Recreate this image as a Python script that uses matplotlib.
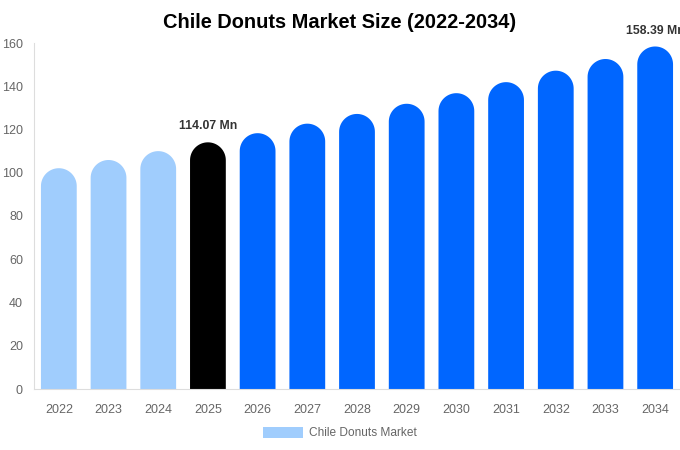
import matplotlib
matplotlib.use("Agg")
import matplotlib.pyplot as plt
import numpy as np
from matplotlib.path import Path
from matplotlib.patches import PathPatch, Patch

years = ["2022", "2023", "2024", "2025", "2026", "2027", "2028",
         "2029", "2030", "2031", "2032", "2033", "2034"]
values = [102.1, 105.9, 110.0, 114.07, 118.3, 122.7, 127.2,
          131.9, 136.8, 141.9, 147.2, 152.6, 158.39]
colors = ["#a0cdfd"] * 3 + ["#000000"] + ["#0066ff"] * 9
labels = {3: "114.07 Mn", 12: "158.39 Mn"}
yticks = [0, 20, 40, 60, 80, 100, 120, 140, 160]
legend_label = "Chile Donuts Market"
title = "Chile Donuts Market Size (2022-2034)"

plt.rcParams['font.family'] = ['Liberation Sans', 'DejaVu Sans']

fig = plt.figure(figsize=(6.8, 4.5), dpi=100)
ax = fig.add_axes([34 / 680, 1 - 389 / 450, 1 - 34 / 680, (389 - 43) / 450])
ax.set_xlim(-0.5, len(years) - 0.5)
ax.set_ylim(0, 160)

bw = 0.72
p0 = ax.transData.transform((0, 0))
p1 = ax.transData.transform((1, 1))
px_x = p1[0] - p0[0]
px_y = p1[1] - p0[1]
hw = bw / 2
ry = hw * px_x / px_y

for i, (v, c) in enumerate(zip(values, colors)):
    x0, x1 = i - hw, i + hw
    yc = v - ry
    t = np.linspace(0, np.pi, 40)
    cap = np.column_stack([i + hw * np.cos(t), yc + ry * np.sin(t)])
    verts = [(x1, 0), (x1, yc)] + [tuple(p) for p in cap] + [(x0, 0), (x1, 0)]
    codes = [Path.MOVETO] + [Path.LINETO] * (len(verts) - 2) + [Path.CLOSEPOLY]
    ax.add_patch(PathPatch(Path(verts, codes), facecolor=c, edgecolor='none'))
    if i in labels:
        ax.annotate(labels[i], (i, v), xytext=(0, 11.5), textcoords='offset points',
                    ha='center', va='center', fontsize=8.8, fontweight='bold',
                    color='#333333', annotation_clip=False)

ax.set_xticks(range(len(years)))
ax.set_xticklabels(years)
ax.set_yticks(yticks)
ax.tick_params(axis='both', length=0, labelsize=9, colors='#666666')
ax.tick_params(axis='x', pad=11)
ax.tick_params(axis='y', pad=8)
for s in ['top', 'right']:
    ax.spines[s].set_visible(False)
for s in ['left', 'bottom']:
    ax.spines[s].set_color('#dddddd')
    ax.spines[s].set_linewidth(0.8)

fig.text(0.5, 1 - 22 / 450, title, ha='center', va='center',
         fontsize=14.4, fontweight='bold', color='#000000')

leg = fig.legend(handles=[Patch(facecolor=colors[0], edgecolor='none', label=legend_label)],
                 loc='center', bbox_to_anchor=(0.5, 1 - 433 / 450), frameon=False,
                 fontsize=8.6, handlelength=3.4, handleheight=1.05, handletextpad=0.5)
for t in leg.get_texts():
    t.set_color('#666666')

fig.savefig("out.png", dpi=100)
